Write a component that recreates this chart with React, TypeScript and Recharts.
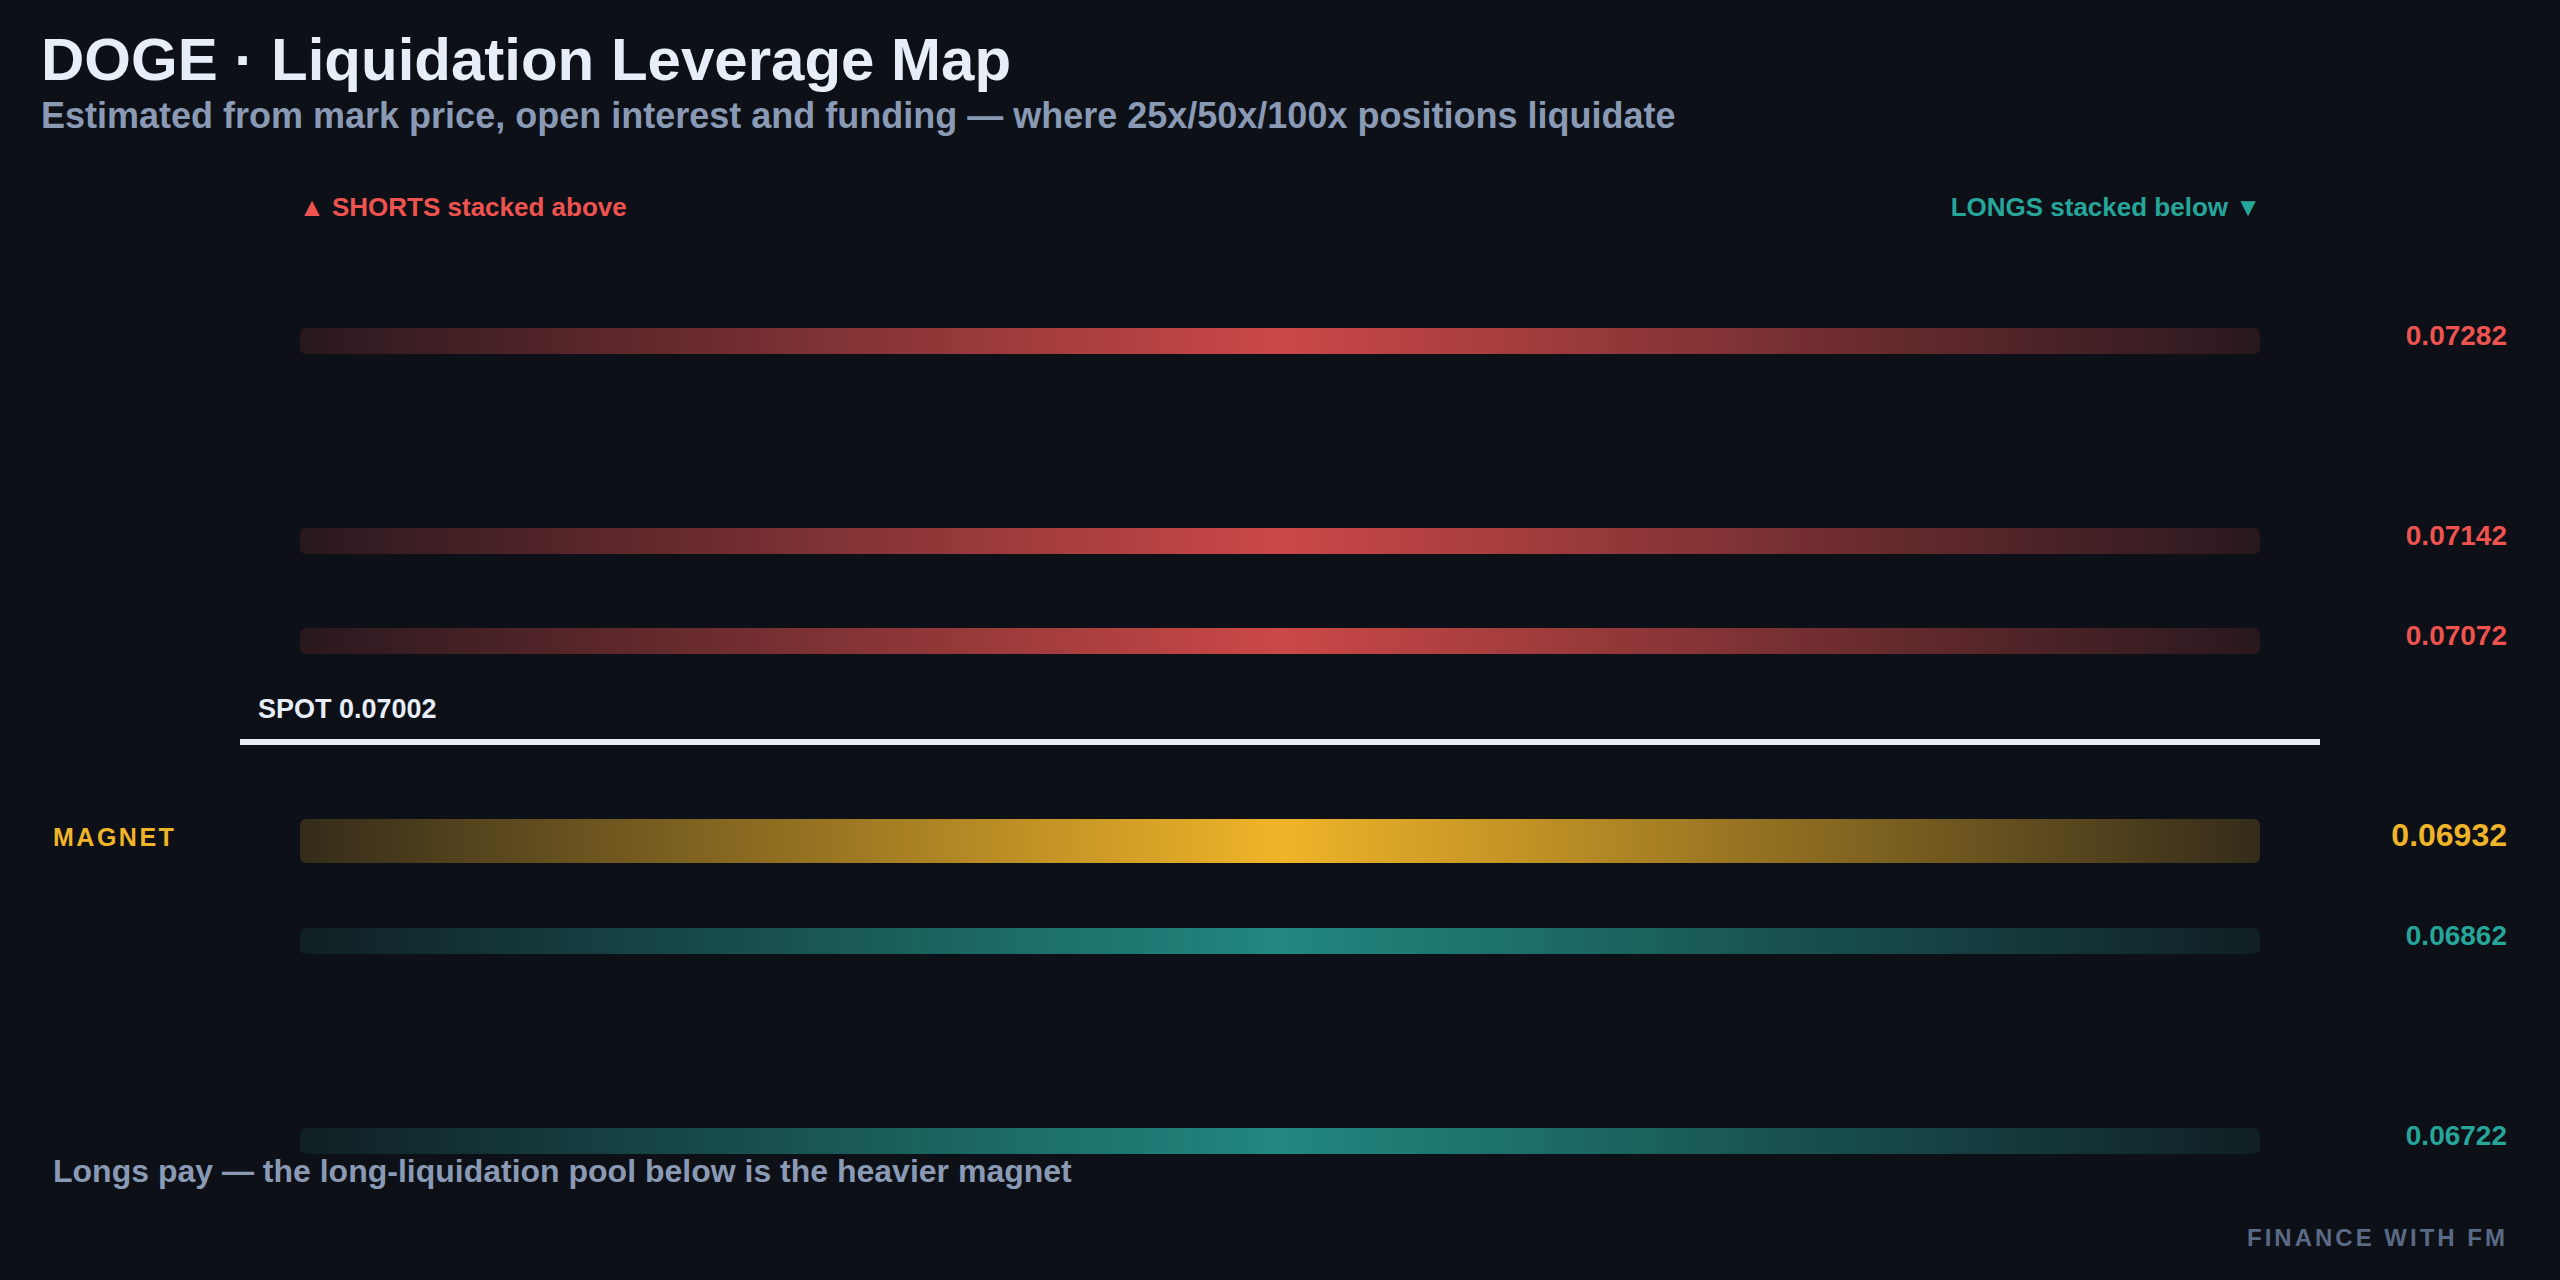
import React from 'react';
import { ComposedChart, Scatter, XAxis, YAxis, ReferenceLine } from 'recharts';

// --- data ---
const SPOT = 0.07002;
const shortLevels = [0.07282, 0.07142, 0.07072]; // 25x / 50x / 100x shorts
const longLevels = [0.06932, 0.06862, 0.06722]; // 100x / 50x / 25x longs
const MAGNET = 0.06932;
const priceDomain = [0.06652, 0.07352];

// --- layout / style ---
const W = 2560;
const H = 1280;
const MARGIN = { top: 241, right: 40, bottom: 39, left: 300 };
const AXIS_W = 260;
const PLOT_W = W - MARGIN.left - MARGIN.right - AXIS_W;
const FONT = '"Liberation Sans", Arial, Helvetica, sans-serif';
const BG = '#0d1017';
const RED = '#ef5350';
const TEAL = '#26a69a';
const GOLD = '#f0b429';
const TEXT = '#e8eef8';
const MUTED = '#8a9ab4';

const shortData = shortLevels.map(p => ({ x: 0.5, price: p, magnet: false }));
const longData = longLevels.map(p => ({ x: 0.5, price: p, magnet: p === MAGNET }));

const colorFor = (p: number) => (p === MAGNET ? GOLD : p > SPOT ? RED : TEAL);

const makeBar = (gradId: string) => (props: any) => {
  const { cx, cy, payload } = props;
  const mag = payload.magnet;
  const h = mag ? 44 : 26;
  return (
    <g>
      <rect
        x={cx - PLOT_W / 2}
        y={cy - h / 2}
        width={PLOT_W}
        height={h}
        rx={6}
        fill={`url(#${mag ? 'gMagnet' : gradId})`}
      />
      {mag && (
        <text x={53} y={cy + 5} fill={GOLD} fontSize={25} fontWeight="bold" letterSpacing={2.5} fontFamily={FONT}>
          MAGNET
        </text>
      )}
    </g>
  );
};

const PriceTick = (props: any) => {
  const { y, payload } = props;
  const v = payload.value as number;
  const mag = v === MAGNET;
  return (
    <text
      x={W - 53}
      y={y + (mag ? 5 : 4)}
      textAnchor="end"
      fill={colorFor(v)}
      fontSize={mag ? 32 : 28}
      fontWeight="bold"
      fontFamily={FONT}
    >
      {v.toFixed(5)}
    </text>
  );
};

const SpotLine = (props: any) => {
  const left = Math.min(props.x1, props.x2);
  const right = Math.max(props.x1, props.x2);
  const y = props.y1;
  return (
    <g>
      <line x1={left - 60} x2={right + 60} y1={y + 1} y2={y + 1} stroke={TEXT} strokeWidth={6} />
      <text x={left - 42} y={y - 23} fill={TEXT} fontSize={27} fontWeight="bold" fontFamily={FONT}>
        {`SPOT ${SPOT.toFixed(5)}`}
      </text>
    </g>
  );
};

const Grad = ({ id, color, edge, mid }: { id: string; color: string; edge: number; mid: number }) => (
  <linearGradient id={id} x1="0" y1="0" x2="1" y2="0">
    <stop offset="0%" stopColor={color} stopOpacity={edge} />
    <stop offset="50%" stopColor={color} stopOpacity={mid} />
    <stop offset="100%" stopColor={color} stopOpacity={edge} />
  </linearGradient>
);

export default function App() {
  return (
    <div style={{ position: 'absolute', left: 0, top: 0, width: W, height: H, background: BG, fontFamily: FONT }}>
      <ComposedChart width={W} height={H} margin={MARGIN} style={{ position: 'absolute', left: 0, top: 0 }}>
        <defs>
          <Grad id="gShort" color={RED} edge={0.12} mid={0.84} />
          <Grad id="gLong" color={TEAL} edge={0.1} mid={0.8} />
          <Grad id="gMagnet" color={GOLD} edge={0.17} mid={1} />
        </defs>
        <XAxis type="number" dataKey="x" domain={[0, 1]} hide />
        <YAxis
          type="number"
          dataKey="price"
          domain={priceDomain}
          orientation="right"
          width={AXIS_W}
          ticks={[...shortLevels, ...longLevels]}
          interval={0}
          axisLine={false}
          tickLine={false}
          tick={<PriceTick />}
        />
        <ReferenceLine y={SPOT} shape={<SpotLine />} />
        <Scatter data={shortData} shape={makeBar('gShort')} isAnimationActive={false} />
        <Scatter data={longData} shape={makeBar('gLong')} isAnimationActive={false} />
      </ComposedChart>
      <svg width={W} height={H} style={{ position: 'absolute', left: 0, top: 0, pointerEvents: 'none' }}>
        <text x={41} y={80} fill={TEXT} fontSize={60} fontWeight="bold" fontFamily={FONT}>
          DOGE · Liquidation Leverage Map
        </text>
        <text x={41} y={128} fill={MUTED} fontSize={36} fontWeight="bold" fontFamily={FONT}>
          Estimated from mark price, open interest and funding — where 25x/50x/100x positions liquidate
        </text>
        <text x={299} y={216} fill={RED} fontSize={26} fontWeight="bold" fontFamily={FONT}>
          ▲ SHORTS stacked above
        </text>
        <text x={2261} y={216} textAnchor="end" fill={TEAL} fontSize={26} fontWeight="bold" fontFamily={FONT}>
          LONGS stacked below ▼
        </text>
        <text x={53} y={1182} fill={MUTED} fontSize={32} fontWeight="bold" fontFamily={FONT}>
          Longs pay — the long-liquidation pool below is the heavier magnet
        </text>
        <text x={2508} y={1246} textAnchor="end" fill="#5a6a85" fontSize={24} fontWeight="bold" letterSpacing={3} fontFamily={FONT}>
          FINANCE WITH FM
        </text>
      </svg>
    </div>
  );
}
